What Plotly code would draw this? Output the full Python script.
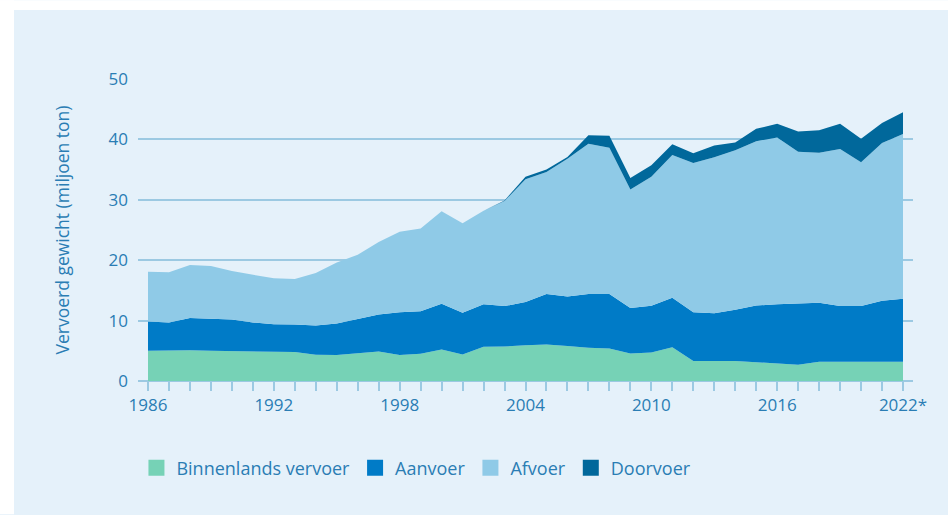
import plotly.graph_objects as go

years = list(range(1986, 2023))

binnenlands = [5.0, 5.1, 5.1, 5.0, 4.95, 4.9, 4.85, 4.8, 4.35, 4.3, 4.6, 4.9, 4.3,
               4.5, 5.2, 4.4, 5.65, 5.7, 5.9, 6.05, 5.8, 5.5, 5.4, 4.55, 4.7, 5.6,
               3.3, 3.3, 3.3, 3.1, 2.9, 2.7, 3.2, 3.2, 3.2, 3.2, 3.2]
aanvoer = [4.85, 4.6, 5.35, 5.3, 5.25, 4.8, 4.55, 4.55, 4.85, 5.2, 5.6, 6.1, 7.1,
           7.05, 7.6, 6.9, 7.05, 6.7, 7.2, 8.35, 8.2, 8.9, 9.0, 7.55, 7.75, 8.2,
           8.1, 7.9, 8.5, 9.4, 9.8, 10.1, 9.75, 9.2, 9.2, 10.1, 10.4]
afvoer = [8.25, 8.3, 8.75, 8.75, 8.0, 7.9, 7.6, 7.55, 8.7, 10.1, 10.7, 12.0, 13.3,
          13.7, 15.3, 14.8, 15.5, 17.4, 20.3, 20.2, 22.8, 24.9, 24.2, 19.6, 21.35, 23.6,
          24.7, 25.85, 26.4, 27.2, 27.6, 25.15, 24.85, 26.0, 23.8, 26.1, 27.3]
doorvoer = [0, 0, 0, 0, 0, 0, 0, 0, 0, 0, 0, 0, 0,
            0, 0, 0, 0, 0.1, 0.4, 0.4, 0.3, 1.4, 2.0, 1.9, 1.9, 1.8,
            1.6, 1.95, 1.3, 2.05, 2.3, 3.35, 3.7, 4.2, 3.9, 3.3, 3.6]

series_names = ["Binnenlands vervoer", "Aanvoer", "Afvoer", "Doorvoer"]
series_values = [binnenlands, aanvoer, afvoer, doorvoer]
colors = ["#76D2B6", "#007BC7", "#8FCAE7", "#01689B"]

x_label_years = [1986, 1992, 1998, 2004, 2010, 2016, 2022]
x_label_text = ["1986", "1992", "1998", "2004", "2010", "2016", "2022*"]
y_ticks = [0, 10, 20, 30, 40, 50]

text_color = "#2A7DB4"
grid_color = "#9CC9E2"
bg = "#E5F1FA"
font_family = "Open Sans"

fig = go.Figure()
for name, vals, col in zip(series_names, series_values, colors):
    fig.add_trace(go.Scatter(
        x=years, y=vals, name=name, mode="lines", stackgroup="one",
        line=dict(width=0, color=col), fillcolor=col, showlegend=False,
        hoverinfo="x+y+name"))
# legend entries (square swatches)
for name, col in zip(series_names, colors):
    fig.add_trace(go.Scatter(
        x=[None], y=[None], name=name, mode="markers",
        marker=dict(symbol="square", size=16, color=col), showlegend=True))

ticktext = [x_label_text[x_label_years.index(y)] if y in x_label_years else "" for y in years]

fig.update_layout(
    width=948, height=515,
    margin=dict(l=138, r=35, t=79, b=133.5, autoexpand=False),
    paper_bgcolor=bg, plot_bgcolor=bg,
    font=dict(family=font_family, color=text_color, size=17),
    xaxis=dict(
        range=[1986 - 10 / 20.97, 2022 + 10 / 20.97],
        tickvals=years, ticktext=ticktext,
        ticks="outside", ticklen=9, tickwidth=1.5, tickcolor=grid_color,
        showgrid=False, zeroline=False, showline=False,
        tickfont=dict(size=17, color=text_color),
    ),
    yaxis=dict(
        range=[0, 50], tickvals=y_ticks,
        showgrid=True, gridcolor=grid_color, gridwidth=1.5,
        zeroline=True, zerolinecolor=grid_color, zerolinewidth=1.5,
        ticks="", ticklabelstandoff=9,
        tickfont=dict(size=17, color=text_color),
        title=dict(text="Vervoerd gewicht (miljoen ton)", font=dict(size=17.5, color=text_color), standoff=34),
    ),
    legend=dict(
        orientation="h", x=-0.002, xanchor="left", y=-0.288, yanchor="middle",
        font=dict(size=18, color=text_color), bgcolor="rgba(0,0,0,0)",
        traceorder="normal", itemclick=False,
    ),
    shapes=[
        dict(type="rect", xref="paper", yref="paper",
             x0=-138 / 775, x1=(948 - 138) / 775, y0=(302.5 + 79 - 10) / 302.5, y1=(302.5 + 79) / 302.5,
             fillcolor="white", line=dict(width=0), layer="below"),
        dict(type="rect", xref="paper", yref="paper",
             x0=-138 / 775, x1=(14 - 138) / 775, y0=-133.5 / 302.5, y1=(302.5 + 79) / 302.5,
             fillcolor="white", line=dict(width=0), layer="below"),
    ],
)

fig.write_html(
    "out.html",
    config={"displayModeBar": False},
    post_script=(
        "document.body.style.margin='0';document.body.style.padding='0';"
        "document.body.style.overflow='hidden';"
        "document.documentElement.style.background='" + bg + "';"
        "document.body.style.background='" + bg + "';"
    ),
)
